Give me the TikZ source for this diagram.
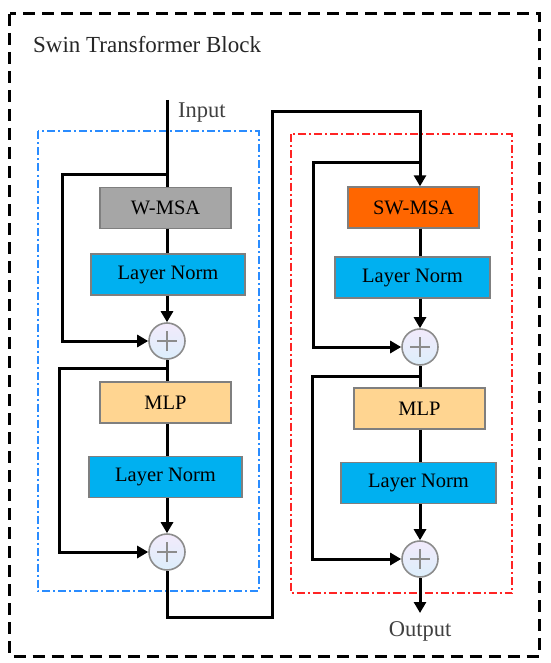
\documentclass[tikz,border=0pt]{standalone}
\usepackage{fontspec}
\setmainfont{Liberation Serif}
\usetikzlibrary{arrows.meta}
\definecolor{boxgray}{HTML}{7F7F7F}
\definecolor{circgray}{HTML}{8C8C8C}
\definecolor{wmsafill}{HTML}{A6A6A6}
\definecolor{lnfill}{HTML}{00B0F0}
\definecolor{mlpfill}{HTML}{FFD591}
\definecolor{swfill}{HTML}{FF6600}
\definecolor{bluedash}{HTML}{2A8CFF}
\definecolor{reddash}{HTML}{FF2424}
\definecolor{labgray}{HTML}{404040}
\definecolor{lavtop}{HTML}{F2EAFB}
\definecolor{lavbot}{HTML}{DCEEFB}
\begin{document}
\begin{tikzpicture}[x=1pt,y=-1pt,
  blk/.style={draw=boxgray, line width=1.4pt, minimum height=41pt, inner sep=0pt,
    font=\fontsize{20.5}{22}\selectfont},
  addn/.style={circle, draw=circgray, line width=1.6pt, minimum size=36pt, inner sep=0pt,
    top color=lavtop, bottom color=lavbot,
    path picture={\draw[circgray,line width=1.6pt]
      ([xshift=-10pt]path picture bounding box.center) -- ([xshift=10pt]path picture bounding box.center)
      ([yshift=-10pt]path picture bounding box.center) -- ([yshift=10pt]path picture bounding box.center);}},
  conn/.style={line width=3pt},
  arr/.style={conn, -{Triangle[width=12pt,length=11pt]}},
  lab/.style={font=\fontsize{22.5}{24}\selectfont, text=labgray, inner sep=0pt},
]
\useasboundingbox (0,0) rectangle (550,663);

% outer and group frames
\draw[line width=3pt, dash pattern=on 12pt off 7pt] (9.5,14) rectangle (539,656);
\draw[bluedash, line width=2pt, dash pattern=on 8pt off 3pt on 2pt off 3pt] (37.5,131.5) rectangle (258.5,591);
\draw[reddash, line width=2pt, dash pattern=on 8pt off 3pt on 2pt off 3pt] (291,134.5) rectangle (512,593);

\node[anchor=base west, inner sep=0pt, font=\fontsize{23}{25}\selectfont, text=black!85] (title) at (33,53) {Swin Transformer Block};

% left column
\node[blk, fill=wmsafill, minimum width=131pt] (wmsa) at (165.5,208) {W-MSA};
\node[blk, fill=lnfill, minimum width=154pt] (ln1) at (168,274.5) {Layer Norm};
\node[addn] (p1) at (167,341) {};
\node[blk, fill=mlpfill, minimum width=131pt] (mlp1) at (165.5,402.5) {MLP};
\node[blk, fill=lnfill, minimum width=153pt] (ln2) at (165.5,477) {Layer Norm};
\node[addn] (p2) at (167,552) {};

% right column
\node[blk, fill=swfill, minimum width=131pt] (swmsa) at (413.5,207.5) {SW-MSA};
\node[blk, fill=lnfill, minimum width=155pt] (ln3) at (412.5,277.5) {Layer Norm};
\node[addn] (p3) at (420,347) {};
\node[blk, fill=mlpfill, minimum width=131pt] (mlp2) at (419.5,408.5) {MLP};
\node[blk, fill=lnfill, minimum width=155pt] (ln4) at (418.5,483) {Layer Norm};
\node[addn] (p4) at (420,559) {};

% labels and coordinates
\coordinate (in) at (167,100);
\node[lab, anchor=base west] (inlab) at (178,118) {Input};
\coordinate (outc) at (420,613);
\node[lab, anchor=base] (outlab) at (420,636) {Output};
\coordinate (b1) at (167,174);
\coordinate (b2) at (167,368);
\coordinate (c1) at (272,617);
\coordinate (c2) at (420,112);
\coordinate (b3) at (420,163);
\coordinate (b4) at (420,376);

% left connectors
\draw[conn] (in) -- (wmsa.north -| in);
\draw[conn] (wmsa.south -| in) -- (ln1.north -| in);
\draw[arr] (ln1.south -| p1) -- (p1.north);
\draw[arr] (b1) -- (62,174) |- (p1.west);
\draw[conn] (p1.south) -- (mlp1.north -| p1);
\draw[conn] (mlp1.south -| p1) -- (ln2.north -| p1);
\draw[arr] (ln2.south -| p2) -- (p2.north);
\draw[arr] (b2) -- (59,368) |- (p2.west);

% bridge
\draw[arr] (p2.south) |- (c1) |- (c2) -- (swmsa.north -| c2);

% right connectors
\draw[arr] (b3) -- (313,163) |- (p3.west);
\draw[conn] (swmsa.south -| p3) -- (ln3.north -| p3);
\draw[arr] (ln3.south -| p3) -- (p3.north);
\draw[conn] (p3.south) -- (mlp2.north -| p3);
\draw[arr] (b4) -- (312,376) |- (p4.west);
\draw[conn] (mlp2.south -| p4) -- (ln4.north -| p4);
\draw[arr] (ln4.south -| p4) -- (p4.north);
\draw[arr] (p4.south) -- (outc);
\end{tikzpicture}
\end{document}
